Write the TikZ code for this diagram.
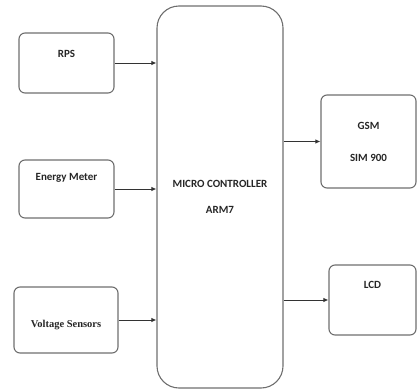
\documentclass[tikz,border=0pt]{standalone}
\usepackage{fontspec}
\setmainfont{Carlito}
\newfontfamily\timesfont{Liberation Serif}
\usepackage{tikz}
\usetikzlibrary{arrows.meta, positioning, calc}
\definecolor{edgegray}{HTML}{6E6E6E}
\definecolor{arrowgray}{HTML}{333333}

\begin{document}
\begin{tikzpicture}[x=1pt, y=1pt,
    blk/.style={rectangle, draw=edgegray, line width=1.1pt, rounded corners=6pt, inner sep=0pt},
    txt/.style={font=\fontsize{11}{13}\selectfont\bfseries, text=black!85, align=center},
    arrow/.style={-{Latex[length=5pt, width=4.5pt]}, line width=1pt, draw=arrowgray}
]
    \useasboundingbox (0,0) rectangle (417,-391);
    % inputs
    \node[blk, minimum width=95pt, minimum height=60pt,
          label={[txt, yshift=9pt]center:RPS}] (rps) at (66.5,-63) {};
    \node[blk, minimum width=95pt, minimum height=58pt,
          label={[txt, yshift=11pt]center:Energy Meter}] (meter) at (66.5,-189) {};
    \node[blk, minimum width=104pt, minimum height=66pt,
          label={[txt, font=\timesfont\fontsize{10.5}{12}\selectfont\bfseries, yshift=-5pt]center:Voltage Sensors}] (volt) at (66,-320) {};
    % controller
    \node[blk, rounded corners=22pt, minimum width=126pt, minimum height=382pt, txt]
          (mcu) at (220,-197) {MICRO CONTROLLER\\[13pt]ARM7};
    % outputs
    \node[blk, minimum width=95pt, minimum height=93pt, txt]
          (gsm) at (368.5,-141.5) {GSM\\[19pt]SIM 900};
    \node[blk, minimum width=87pt, minimum height=70pt,
          label={[txt, yshift=15pt]center:LCD}] (lcd) at (372.5,-300) {};
    \draw[arrow] (rps.east) -- (rps.east -| mcu.west);
    \draw[arrow] (meter.east) -- (meter.east -| mcu.west);
    \draw[arrow] (volt.east) -- (volt.east -| mcu.west);
    \draw[arrow] (mcu.east |- gsm.west) -- (gsm.west);
    \draw[arrow] (mcu.east |- lcd.west) -- (lcd.west);
\end{tikzpicture}
\end{document}
